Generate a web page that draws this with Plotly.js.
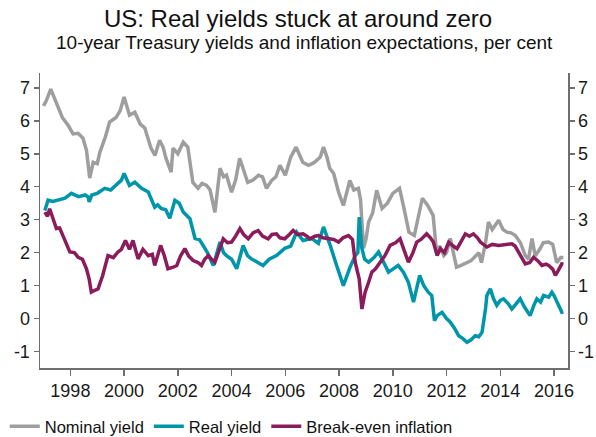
<!DOCTYPE html>
<html>
<head>
<meta charset="utf-8">
<script src="https://cdn.plot.ly/plotly-3.0.1.min.js"></script>
<style>
html,body{margin:0;padding:0;background:#fff;}
#chart{width:596px;height:437px;}
</style>
</head>
<body>
<div id="chart"></div>
<script>
// Nominal 10-year Treasury yield (per cent)
const nominalYears = [1997.0,1997.1,1997.27,1997.4,1997.54,1997.7,1997.91,1998.1,1998.29,1998.47,1998.6,1998.72,1998.85,1999.0,1999.1,1999.3,1999.46,1999.7,1999.85,2000.0,2000.2,2000.4,2000.6,2000.77,2001.0,2001.15,2001.32,2001.45,2001.56,2001.75,2001.82,2002.0,2002.2,2002.37,2002.56,2002.75,2002.9,2003.07,2003.2,2003.38,2003.57,2003.7,2003.81,2004.0,2004.15,2004.3,2004.45,2004.6,2004.8,2005.0,2005.15,2005.3,2005.5,2005.65,2005.8,2006.0,2006.2,2006.4,2006.65,2006.86,2007.0,2007.1,2007.3,2007.42,2007.55,2007.65,2007.8,2007.98,2008.16,2008.3,2008.4,2008.55,2008.72,2008.8,2008.91,2009.0,2009.1,2009.25,2009.4,2009.6,2009.8,2010.0,2010.25,2010.4,2010.6,2010.8,2011.0,2011.1,2011.3,2011.5,2011.63,2011.75,2011.9,2012.0,2012.14,2012.25,2012.37,2012.5,2012.75,2012.9,2013.1,2013.2,2013.3,2013.45,2013.56,2013.7,2013.94,2014.1,2014.25,2014.4,2014.56,2014.75,2014.93,2015.05,2015.18,2015.3,2015.49,2015.6,2015.8,2015.95,2016.1,2016.25,2016.35];
const nominalYield = [6.45,6.6,6.96,6.7,6.38,6.1,5.87,5.6,5.62,5.47,5.1,4.26,4.74,4.7,5.05,5.5,5.96,6.1,6.3,6.72,6.17,6.26,5.9,5.78,5.17,4.95,5.41,5.2,4.86,4.44,5.17,5.0,5.35,5.2,4.13,3.95,4.1,4.04,3.9,3.22,4.56,4.3,4.35,3.83,4.2,4.86,4.5,4.13,4.2,4.35,4.3,3.95,4.2,4.3,4.65,4.35,4.9,5.2,4.74,4.65,4.7,4.75,4.9,5.2,4.9,4.56,4.4,3.84,3.43,3.9,4.19,3.9,3.95,3.6,2.13,2.4,2.93,3.2,3.89,3.34,3.5,3.8,3.95,3.4,2.62,2.52,3.3,3.65,3.43,3.13,2.0,2.2,1.91,2.0,2.43,2.0,1.56,1.6,1.7,1.75,1.91,2.0,1.7,2.3,2.93,2.7,2.98,2.7,2.62,2.6,2.52,2.3,1.91,1.8,2.43,1.9,2.13,2.3,2.32,2.25,1.7,1.85,1.85];

// Real (TIPS) 10-year yield
const realYears = [1997.05,1997.17,1997.35,1997.54,1997.8,1998.04,1998.3,1998.55,1998.66,1998.7,1998.8,1999.0,1999.28,1999.5,1999.77,1999.9,2000.0,2000.1,2000.2,2000.4,2000.65,2000.9,2001.14,2001.25,2001.38,2001.55,2001.7,2001.89,2002.05,2002.2,2002.45,2002.64,2002.8,2002.94,2003.1,2003.32,2003.45,2003.57,2003.7,2003.81,2004.0,2004.19,2004.43,2004.6,2004.74,2004.95,2005.17,2005.4,2005.67,2005.98,2006.2,2006.42,2006.66,2006.98,2007.23,2007.42,2007.55,2007.67,2007.91,2008.16,2008.41,2008.6,2008.7,2008.75,2008.85,2008.95,2009.1,2009.3,2009.47,2009.65,2009.84,2010.0,2010.2,2010.4,2010.58,2010.77,2010.9,2011.0,2011.15,2011.32,2011.45,2011.55,2011.65,2011.83,2012.0,2012.14,2012.3,2012.45,2012.6,2012.76,2012.9,2013.07,2013.2,2013.32,2013.45,2013.5,2013.63,2013.75,2013.87,2014.0,2014.12,2014.3,2014.43,2014.6,2014.74,2014.9,2015.11,2015.25,2015.36,2015.5,2015.61,2015.8,2015.92,2016.0,2016.1,2016.2,2016.29,2016.35];
const realYield = [3.28,3.59,3.55,3.59,3.65,3.8,3.7,3.75,3.69,3.54,3.75,3.8,3.95,3.9,4.1,4.2,4.4,4.2,4.04,4.14,3.95,3.84,3.38,3.45,3.34,3.3,3.04,3.59,3.5,3.23,3.03,2.43,2.4,2.22,2.0,1.61,2.0,2.32,2.0,1.91,1.8,1.51,2.22,1.9,1.81,1.7,1.61,1.8,1.91,2.13,2.2,2.62,2.37,2.43,2.28,2.78,2.5,2.22,1.61,1.0,1.56,1.91,2.0,3.08,2.13,1.8,1.71,1.85,2.02,1.7,1.41,1.5,1.61,1.4,1.1,0.5,0.9,1.31,1.0,0.8,0.7,-0.06,0.09,0.19,0.0,-0.11,-0.3,-0.52,-0.6,-0.72,-0.65,-0.52,-0.55,-0.42,0.3,0.7,0.9,0.6,0.4,0.55,0.6,0.45,0.29,0.45,0.6,0.35,0.09,0.4,0.6,0.5,0.7,0.65,0.8,0.7,0.5,0.35,0.19,0.2];

// Break-even inflation
const breakevenYears = [1997.05,1997.15,1997.23,1997.35,1997.48,1997.6,1997.73,1997.85,1997.98,1998.15,1998.29,1998.45,1998.6,1998.7,1998.78,1998.9,1999.03,1999.2,1999.4,1999.6,1999.77,1999.9,2000.05,2000.2,2000.33,2000.52,2000.7,2000.9,2001.05,2001.14,2001.36,2001.5,2001.63,2001.8,2001.96,2002.1,2002.26,2002.4,2002.57,2002.75,2002.88,2003.0,2003.13,2003.25,2003.38,2003.55,2003.69,2003.85,2004.0,2004.15,2004.31,2004.45,2004.62,2004.8,2004.99,2005.15,2005.36,2005.5,2005.67,2005.8,2005.98,2006.15,2006.29,2006.45,2006.66,2006.8,2006.92,2007.1,2007.23,2007.4,2007.6,2007.8,2007.98,2008.15,2008.35,2008.5,2008.6,2008.75,2008.85,2008.97,2009.1,2009.22,2009.35,2009.53,2009.7,2009.9,2010.1,2010.27,2010.45,2010.58,2010.75,2010.89,2011.05,2011.26,2011.4,2011.51,2011.65,2011.77,2011.92,2012.08,2012.25,2012.39,2012.55,2012.7,2012.85,2013.0,2013.15,2013.26,2013.5,2013.7,2013.94,2014.2,2014.43,2014.55,2014.68,2014.8,2014.93,2015.1,2015.24,2015.4,2015.55,2015.7,2015.8,2015.95,2016.05,2016.15,2016.29,2016.35];
const breakevenInflation = [3.23,3.1,3.33,3.0,2.73,2.75,2.52,2.3,2.02,2.0,1.86,1.8,1.51,1.2,0.8,0.85,0.9,1.3,1.91,1.85,2.02,2.1,2.37,2.1,2.37,1.81,2.1,1.91,1.95,1.61,2.22,1.9,1.51,1.55,1.61,1.9,2.12,1.9,1.76,1.7,1.61,1.8,1.91,1.8,1.71,2.1,2.42,2.3,2.32,2.5,2.73,2.55,2.42,2.6,2.67,2.5,2.42,2.55,2.57,2.45,2.42,2.55,2.67,2.55,2.57,2.5,2.42,2.5,2.52,2.45,2.42,2.4,2.32,2.45,2.52,2.4,1.71,1.2,0.29,0.8,1.1,1.41,1.5,1.71,1.9,2.22,2.3,2.42,2.0,1.71,2.0,2.32,2.4,2.57,2.45,2.32,1.91,2.12,2.0,2.32,2.2,2.12,2.35,2.57,2.5,2.57,2.45,2.32,2.17,2.25,2.22,2.25,2.27,2.2,2.02,1.85,1.66,1.7,1.86,1.75,1.61,1.65,1.61,1.5,1.31,1.45,1.66,1.65];

const seriesNames = ['Nominal yield','Real yield','Break-even inflation'];
const xTicks = [1998,2000,2002,2004,2006,2008,2010,2012,2014,2016];
const yTicks = [-1,0,1,2,3,4,5,6,7];

const FONT = '"Liberation Sans", Arial, sans-serif';
const colors = ['#9e9e9e','#0096a9','#8b1c5c'];

const traces = [
  {x: nominalYears, y: nominalYield, name: seriesNames[0]},
  {x: realYears, y: realYield, name: seriesNames[1]},
  {x: breakevenYears, y: breakevenInflation, name: seriesNames[2]}
].map((t,i)=>Object.assign(t,{type:'scatter',mode:'lines',line:{color:colors[i],width:3.5},hoverinfo:'skip'}));

// transparent copy on the right-hand axis so that axis is drawn with its labels
traces.push({type:'scatter', mode:'lines', x: nominalYears, y: nominalYield, yaxis:'y2', showlegend:false, hoverinfo:'skip', opacity:0, line:{width:0, color:'rgba(0,0,0,0)'}});

const yRange = [-1.5, 7.45];
const axisCommon = {
  showgrid:false, zeroline:false, showline:true, linecolor:'#6e6e6e', linewidth:1.5,
  ticks:'outside', ticklen:5, tickcolor:'#6e6e6e', tickwidth:1.5, automargin:false,
  tickfont:{family:FONT,size:18,color:'#1a1a1a'}, fixedrange:true
};

const layout = {
  width:596, height:437,
  margin:{l:40,r:28,t:73,b:69},
  paper_bgcolor:'#fff', plot_bgcolor:'#fff',
  font:{family:FONT,color:'#1a1a1a'},
  title:{text:'US: Real yields stuck at around zero', font:{family:FONT,size:24,color:'#111'}, x:0.5, xanchor:'center', y:0.958, yanchor:'middle', automargin:false},
  annotations:[{text:'10-year Treasury yields and inflation expectations, per cent', xref:'paper', yref:'paper', x:0.5, y:1.0, xanchor:'center', yanchor:'bottom', yshift:18, showarrow:false, font:{family:FONT,size:19,color:'#111'}}],
  xaxis:Object.assign({}, axisCommon, {range:[1996.87,2016.52], tickvals:xTicks, ticktext:xTicks.map(String), ticklen:6}),
  yaxis:Object.assign({}, axisCommon, {range:yRange, tickvals:yTicks, ticktext:yTicks.map(String), side:'left'}),
  yaxis2:Object.assign({}, axisCommon, {range:yRange, tickvals:yTicks, ticktext:yTicks.map(String), side:'right', overlaying:'y', anchor:'x'}),
  showlegend:true,
  legend:{orientation:'h', xref:'container', yref:'container', x:0.008, xanchor:'left', y:0.064, yanchor:'top', font:{family:FONT,size:16.5,color:'#111'}, itemwidth:30, tracegroupgap:0, bgcolor:'rgba(0,0,0,0)'}
};

Plotly.newPlot('chart', traces, layout, {staticPlot:true, displayModeBar:false});
</script>
</body>
</html>
